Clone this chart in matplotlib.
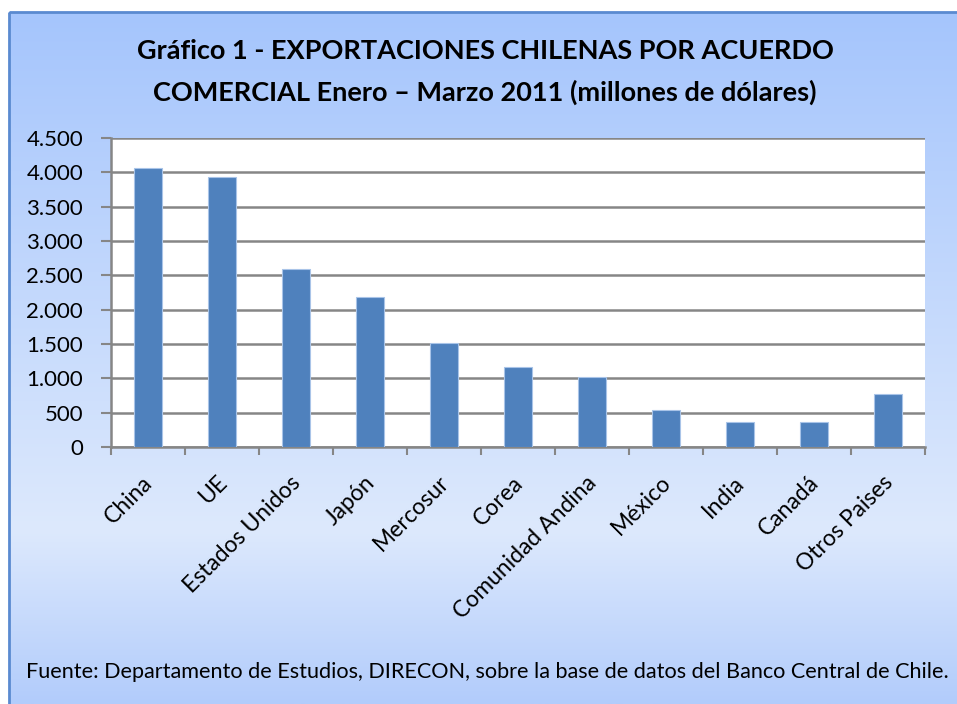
import matplotlib.pyplot as plt
import matplotlib.transforms as mtransforms
import numpy as np
from matplotlib.colors import LinearSegmentedColormap
from matplotlib.patches import Rectangle
from matplotlib.ticker import FuncFormatter

categorias = ["China", "UE", "Estados Unidos", "Japón", "Mercosur", "Corea",
              "Comunidad Andina", "México", "India", "Canadá", "Otros Paises"]
exportaciones = [4070, 3930, 2595, 2185, 1520, 1170, 1025, 535, 360, 360, 770]

titulo = ("Gráfico 1 - EXPORTACIONES CHILENAS POR ACUERDO\n"
          "COMERCIAL Enero – Marzo 2011 (millones de dólares)")
fuente = "Fuente: Departamento de Estudios, DIRECON, sobre la base de datos del Banco Central de Chile."

plt.rcParams["font.family"] = ["Lato", "DejaVu Sans"]

fig = plt.figure(figsize=(9.57, 7.04), dpi=100)

# fondo degradado
bg = fig.add_axes([0, 0, 1, 1], zorder=-10)
bg.set_xlim(0, 957)
bg.set_ylim(704, 0)
bg.axis("off")
cmap = LinearSegmentedColormap.from_list(
    "fondo", [(0.0, "#a5c5fc"), (0.75, "#dde9fd"), (1.0, "#b2ccfb")])
grad = np.linspace(0, 1, 256).reshape(-1, 1)
bg.imshow(grad, cmap=cmap, aspect="auto", extent=[9, 957, 704, 12])
bg.add_patch(Rectangle((9, 12), 960, 700, fill=False, ec="#5a8ad0", lw=2))

ax = fig.add_axes([111 / 957, 1 - 447 / 704, (925 - 111) / 957, (447 - 138) / 704])
x = np.arange(len(categorias))
ax.bar(x, exportaciones, width=0.37, color="#4f81bd", edgecolor="#a9c4e8",
       linewidth=0.8, zorder=3)

ax.set_xlim(-0.5, len(categorias) - 0.5)
ax.set_ylim(0, 4500)
ax.set_yticks(np.arange(0, 4501, 500))
ax.yaxis.set_major_formatter(FuncFormatter(lambda v, p: f"{int(v):,}".replace(",", ".")))
ax.set_xticks(np.arange(-0.5, len(categorias), 1), minor=False)
ax.set_xticklabels([])
ax.set_xticks(x, minor=True)
ax.set_xticklabels(categorias, minor=True, rotation=45, ha="right",
                   rotation_mode="anchor", fontsize=16.5)
ax.tick_params(axis="x", which="minor", length=0, pad=18)
ax.tick_params(axis="x", which="major", length=6, width=1.5, color="#868686")
ax.tick_params(axis="y", length=7, width=1.5, color="#868686", labelsize=16, pad=13)
ax.grid(axis="y", color="#868686", lw=1.8, zorder=0)
for s in ["top", "right"]:
    ax.spines[s].set_visible(False)
for s in ["left", "bottom"]:
    ax.spines[s].set_color("#868686")
    ax.spines[s].set_linewidth(1.8)
ax.set_facecolor("white")

desplaza = mtransforms.ScaledTranslation(-0.06, 0, fig.dpi_scale_trans)
for lbl in ax.get_xticklabels(minor=True):
    lbl.set_transform(lbl.get_transform() + desplaza)

fig.text(485 / 957, 1 - 72 / 704, titulo, ha="center", va="center",
         fontsize=19.5, fontweight="bold", linespacing=1.75)
fig.text(487 / 957, 1 - 672 / 704, fuente, ha="center", va="center",
         fontsize=15.6)

fig.savefig("out.png", dpi=100)
